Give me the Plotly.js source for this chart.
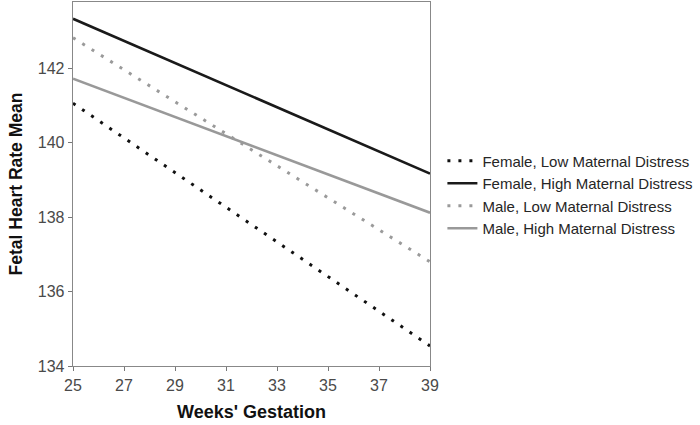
<!DOCTYPE html>
<html>
<head>
<meta charset="utf-8">
<script src="https://cdn.plot.ly/plotly-3.0.1.min.js"></script>
<style>html,body{margin:0;padding:0;background:#fff;}#chart{width:700px;height:425px;}</style>
</head>
<body>
<div id="chart"></div>
<script>
const weeks = [25, 39];
const seriesNames = [
  "Female, Low Maternal Distress",
  "Female, High Maternal Distress",
  "Male, Low Maternal Distress",
  "Male, High Maternal Distress"
];
const femaleLow = [141.06, 134.54];
const femaleHigh = [143.33, 139.17];
const maleLow = [142.82, 136.8];
const maleHigh = [141.72, 138.12];
const xTicks = [25, 27, 29, 31, 33, 35, 37, 39];
const yTicks = [134, 136, 138, 140, 142];

const dotDash = "3px,8px";
const traces = [
  {x: weeks, y: femaleLow, name: seriesNames[0], mode: "lines", line: {color: "#111111", width: 3, dash: dotDash}},
  {x: weeks, y: femaleHigh, name: seriesNames[1], mode: "lines", line: {color: "#1a1a1a", width: 2.6}},
  {x: weeks, y: maleLow, name: seriesNames[2], mode: "lines", line: {color: "#9a9a9a", width: 3, dash: dotDash}},
  {x: weeks, y: maleHigh, name: seriesNames[3], mode: "lines", line: {color: "#999999", width: 2.6}}
];

const layout = {
  width: 700, height: 425,
  margin: {l: 73, r: 270, t: 2, b: 59},
  paper_bgcolor: "#fff", plot_bgcolor: "#fff",
  font: {family: "Liberation Sans, Arial, sans-serif", color: "#444"},
  xaxis: {
    range: [25, 39], tickvals: xTicks, ticktext: xTicks.map(String),
    showgrid: false, zeroline: false, showline: true, mirror: true,
    linecolor: "#888", linewidth: 1.3,
    ticks: "outside", ticklen: 4, tickcolor: "#777",
    tickfont: {size: 16, color: "#4a4a4a"},
    title: {text: "<b>Weeks' Gestation</b>", font: {size: 18, color: "#111"}, standoff: 13}
  },
  yaxis: {
    range: [134, 143.78], tickvals: yTicks, ticktext: yTicks.map(String),
    showgrid: false, zeroline: false, showline: true, mirror: true,
    linecolor: "#888", linewidth: 1.3,
    ticks: "outside", ticklen: 4, tickcolor: "#777",
    tickfont: {size: 16, color: "#4a4a4a"},
    title: {text: "<b>Fetal Heart Rate Mean</b>", font: {size: 17.5, color: "#111"}, standoff: 10}
  },
  legend: {
    xref: "container", yref: "container",
    x: 0.632, y: 1 - 194.5 / 425, xanchor: "left", yanchor: "middle",
    font: {size: 15, color: "#262626"},
    bgcolor: "rgba(0,0,0,0)", tracegroupgap: 0, itemwidth: 30
  },
  showlegend: true
};

Plotly.newPlot("chart", traces, layout, {staticPlot: true, displayModeBar: false});
</script>
</body>
</html>
